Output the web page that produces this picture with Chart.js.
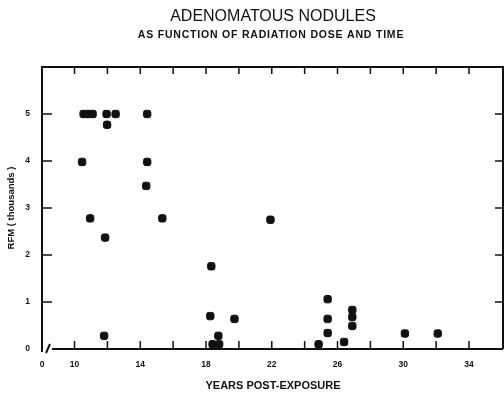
<!DOCTYPE html>
<html>
<head>
<meta charset="utf-8">
<script src="https://cdn.jsdelivr.net/npm/chart.js@4/dist/chart.umd.min.js"></script>
<style>
  html, body { margin: 0; padding: 0; background: #fff; overflow: hidden; }
  canvas { display: block; }
</style>
</head>
<body>
<canvas id="chart" width="504" height="396"></canvas>
<script>
const tituloPrincipal = 'ADENOMATOUS NODULES'
const subtitulo = 'AS FUNCTION OF RADIATION DOSE AND TIME'
const tituloX = 'YEARS POST-EXPOSURE'
const tituloY = 'RFM ( thousands )'

// valores
const anios = [10.55, 10.82, 11.1, 11.95, 12.5, 11.98, 14.42, 10.46, 14.42, 14.36, 10.95, 15.34, 11.86, 11.8,
  18.32, 18.26, 19.73, 18.4, 18.75, 18.8, 21.92, 24.85, 25.4, 25.4, 25.4, 26.4, 26.9, 26.9, 26.9, 30.1, 32.1]
const rfm = [5, 5, 5, 5, 5, 4.77, 5, 3.98, 3.98, 3.47, 2.78, 2.78, 2.37, 0.28,
  1.76, 0.7, 0.64, 0.1, 0.28, 0.1, 2.75, 0.1, 1.06, 0.64, 0.34, 0.15, 0.83, 0.68, 0.49, 0.33, 0.33]

const ticksX = [10, 12, 14, 16, 18, 20, 22, 24, 26, 28, 30, 32, 34]
const etiquetasX = [10, 14, 18, 22, 26, 30, 34]
const ticksY = [0, 1, 2, 3, 4, 5]
const xMin = 8.02, xMax = 36.13, yMin = 0, yMax = 6

const puntos = anios.map((a, i) => ({ x: a, y: rfm[i] }))
const fuente = '"Liberation Sans", Arial, sans-serif'

const marco = {
  id: 'marco',
  afterDraw(chart) {
    const { ctx, chartArea: a, scales: { x, y } } = chart
    ctx.save()
    ctx.strokeStyle = '#111'
    ctx.lineWidth = 2
    ctx.beginPath()
    // eje izquierdo, arriba, derecha
    ctx.moveTo(a.left, a.bottom + 3)
    ctx.lineTo(a.left, a.top)
    ctx.lineTo(a.right - 1, a.top)
    ctx.lineTo(a.right - 1, a.bottom)
    // eje inferior con corte
    ctx.moveTo(a.left + 10, a.bottom)
    ctx.lineTo(a.right - 1, a.bottom)
    ctx.moveTo(a.left + 4, a.bottom + 4)
    ctx.lineTo(a.left + 8, a.bottom - 5)
    ctx.stroke()

    ctx.lineWidth = 1.5
    ctx.beginPath()
    ticksX.forEach(v => {
      const px = x.getPixelForValue(v)
      ctx.moveTo(px, a.bottom)
      ctx.lineTo(px, a.bottom - 8)
      ctx.moveTo(px, a.top)
      ctx.lineTo(px, a.top + 7)
    })
    ticksY.filter(v => v > 0).forEach(v => {
      const py = y.getPixelForValue(v)
      ctx.moveTo(a.left, py)
      ctx.lineTo(a.left + 10, py)
      ctx.moveTo(a.right - 1, py)
      ctx.lineTo(a.right - 9, py)
    })
    ctx.stroke()

    ctx.fillStyle = '#111'
    ctx.textAlign = 'center'
    ctx.textBaseline = 'middle'
    ctx.font = '16px ' + fuente
    ctx.fillText(tituloPrincipal, 273, 17)
    ctx.font = 'bold 10.5px ' + fuente
    ctx.letterSpacing = '0.8px'
    ctx.fillText(subtitulo, 271, 35)
    ctx.restore()
  }
}

new Chart(document.getElementById('chart'), {
  type: 'scatter',
  data: {
    datasets: [{
      data: puntos,
      backgroundColor: '#111',
      borderColor: '#111',
      pointStyle: 'rectRounded',
      pointRadius: 4.3,
      pointHoverRadius: 4.3
    }]
  },
  options: {
    responsive: false,
    animation: false,
    layout: { autoPadding: false, padding: { top: 67, right: 0, left: 0, bottom: 0 } },
    plugins: { legend: { display: false }, tooltip: { enabled: false } },
    scales: {
      x: {
        type: 'linear',
        min: xMin,
        max: xMax,
        afterBuildTicks: s => { s.ticks = [{ value: xMin }].concat(ticksX.map(v => ({ value: v }))) },
        afterFit: s => { s.height = 47; s.paddingLeft = 0; s.paddingRight = 0 },
        grid: { display: false, drawTicks: false },
        border: { display: false },
        ticks: {
          padding: 11,
          maxRotation: 0,
          autoSkip: false,
          color: '#111',
          font: { family: fuente, size: 8.5, weight: 'bold' },
          callback: v => v === xMin ? '0' : (etiquetasX.includes(v) ? String(v) : '')
        },
        title: {
          display: true,
          text: tituloX,
          color: '#111',
          padding: { top: 0, bottom: 3 },
          font: { family: fuente, size: 11, weight: 'bold' }
        }
      },
      y: {
        min: yMin,
        max: yMax,
        afterBuildTicks: s => { s.ticks = ticksY.map(v => ({ value: v })) },
        afterFit: s => { s.width = 42; s.paddingTop = 0; s.paddingBottom = 0 },
        grid: { display: false, drawTicks: false },
        border: { display: false },
        ticks: {
          padding: 12,
          color: '#111',
          font: { family: fuente, size: 8.5, weight: 'bold' }
        },
        title: {
          display: true,
          text: tituloY,
          color: '#111',
          padding: { top: 6, bottom: 0 },
          font: { family: fuente, size: 9.5, weight: 'bold' }
        }
      }
    }
  },
  plugins: [marco]
})
</script>
</body>
</html>
